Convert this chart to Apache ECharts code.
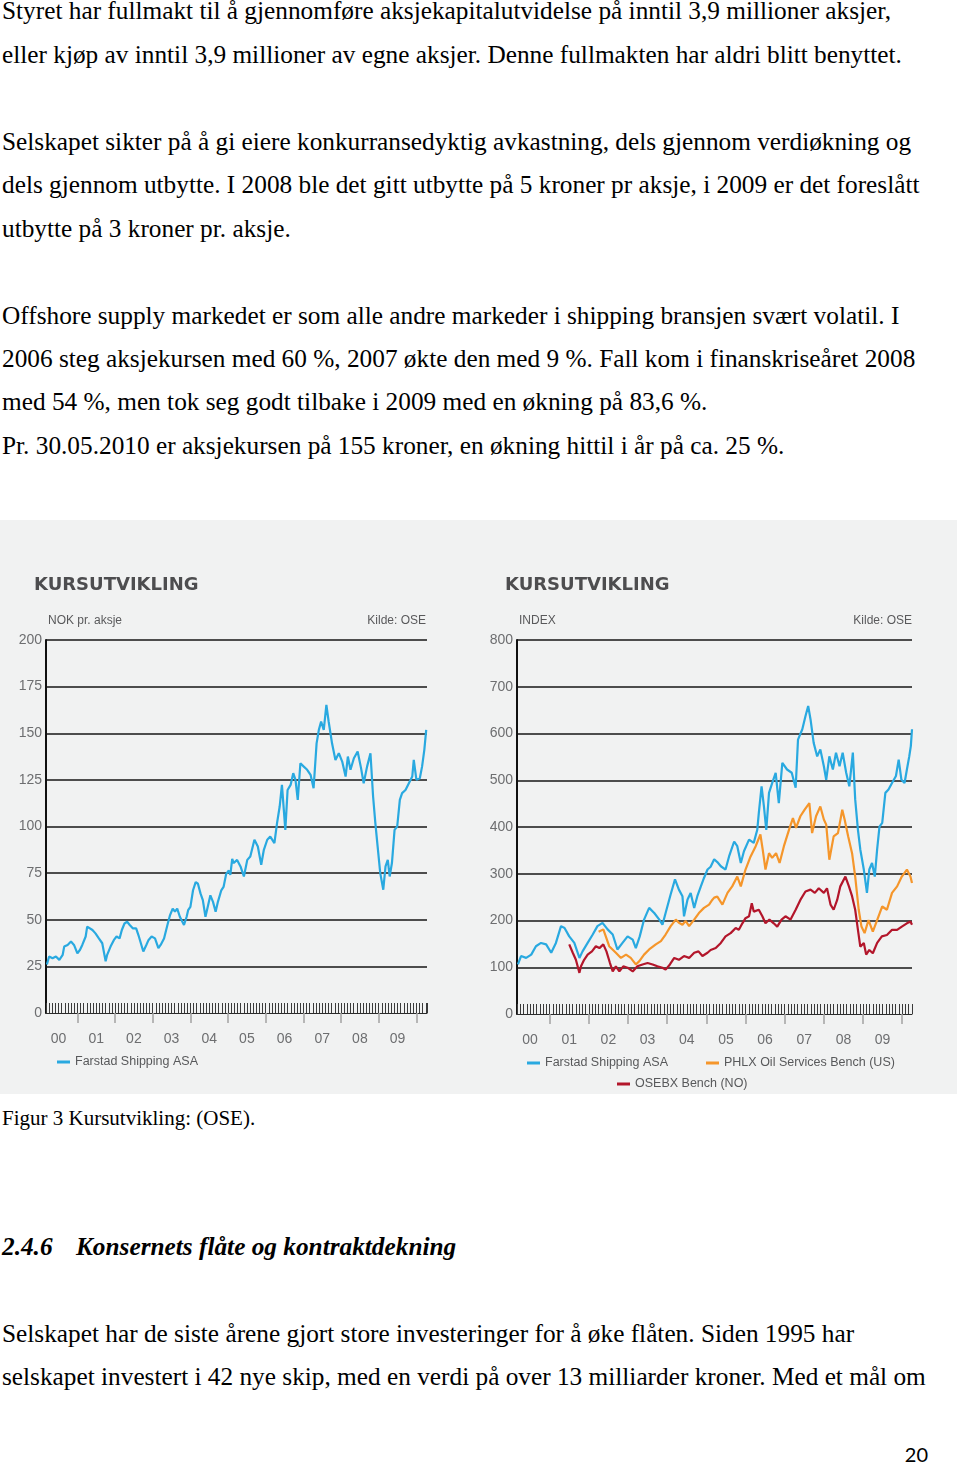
<!DOCTYPE html>
<html><head><meta charset="utf-8">
<script src="https://cdn.jsdelivr.net/npm/echarts@6/dist/echarts.min.js"></script>
<style>
html,body{margin:0;padding:0;background:#fff;}
#page{position:relative;width:960px;height:1466px;overflow:hidden;background:#fff;}
.t{position:absolute;left:2px;white-space:nowrap;font-family:"Liberation Serif","Times New Roman",serif;font-size:25.3px;line-height:25.3px;color:#000;}
.cap{font-size:21px;line-height:21px;}
.h{font-weight:bold;font-style:italic;}
.pg{position:absolute;right:32px;top:1444px;font-family:Lato,"Liberation Sans",sans-serif;font-size:20px;line-height:20px;color:#000;}
#chart{position:absolute;left:0;top:520px;width:957px;height:574px;}
</style></head>
<body><div id="page">
<div class="t" style="top:-1.7px">Styret har fullmakt til å gjennomføre aksjekapitalutvidelse på inntil 3,9 millioner aksjer,</div>
<div class="t" style="top:41.8px">eller kjøp av inntil 3,9 millioner av egne aksjer. Denne fullmakten har aldri blitt benyttet.</div>
<div class="t" style="top:128.7px">Selskapet sikter på å gi eiere konkurransedyktig avkastning, dels gjennom verdiøkning og</div>
<div class="t" style="top:172.1px">dels gjennom utbytte. I 2008 ble det gitt utbytte på 5 kroner pr aksje, i 2009 er det foreslått</div>
<div class="t" style="top:215.6px">utbytte på 3 kroner pr. aksje.</div>
<div class="t" style="top:302.5px">Offshore supply markedet er som alle andre markeder i shipping bransjen svært volatil. I</div>
<div class="t" style="top:345.9px">2006 steg aksjekursen med 60 %, 2007 økte den med 9 %. Fall kom i finanskriseåret 2008</div>
<div class="t" style="top:389.4px">med 54 %, men tok seg godt tilbake i 2009 med en økning på 83,6 %.</div>
<div class="t" style="top:432.8px">Pr. 30.05.2010 er aksjekursen på 155 kroner, en økning hittil i år på ca. 25 %.</div>
<div id="chart"></div>
<div class="t cap" style="top:1108.4px">Figur 3 Kursutvikling: (OSE).</div>
<div class="t h" style="top:1233.8px"><span style="display:inline-block;width:74px">2.4.6</span>Konsernets flåte og kontraktdekning</div>
<div class="t" style="top:1320.8px">Selskapet har de siste årene gjort store investeringer for å øke flåten. Siden 1995 har</div>
<div class="t" style="top:1364.3px">selskapet investert i 42 nye skip, med en verdi på over 13 milliarder kroner. Med et mål om</div>
<div class="pg">20</div>
</div>
<script>
// ---- data (decimal year, value) ----
const yearLabels = ['00','01','02','03','04','05','06','07','08','09'];
const yearStarts = [2001,2002,2003,2004,2005,2006,2007,2008,2009,2010];
const nokTicks = [0,25,50,75,100,125,150,175,200];
const indexTicks = [0,100,200,300,400,500,600,700,800];

const farstadNok = [[2000.19,26],[2000.25,30.3],[2000.34,29.4],[2000.43,30.3],[2000.52,28.5],[2000.61,31.2],[2000.65,35.6],[2000.74,36.5],[2000.83,38.3],[2000.87,39.2],[2000.91,36.5],[2001.00,32],[2001.07,33.9],[2001.13,36.5],[2001.22,41],[2001.26,46.3],[2001.31,47.2],[2001.40,44.5],[2001.48,42.7],[2001.57,40],[2001.66,37.4],[2001.75,27.7],[2001.79,31.2],[2001.88,35.6],[2001.97,39.2],[2002.04,41],[2002.12,40],[2002.18,44.5],[2002.25,48],[2002.32,48.9],[2002.39,47.2],[2002.47,45.4],[2002.56,45.4],[2002.62,41.8],[2002.67,42.7],[2002.75,33],[2002.83,36.5],[2002.89,39.2],[2002.97,41],[2003.06,40],[2003.15,34.8],[2003.21,36.5],[2003.30,40],[2003.39,47.2],[2003.46,52.5],[2003.53,56],[2003.59,54.3],[2003.65,56],[2003.72,51.6],[2003.83,47.2],[2003.90,51.6],[2003.94,55.1],[2004.00,56.9],[2004.07,65.8],[2004.14,70.2],[2004.20,69.3],[2004.27,64],[2004.33,60.5],[2004.40,51.6],[2004.47,57.8],[2004.53,63.1],[2004.60,59.6],[2004.67,54.3],[2004.73,59.6],[2004.82,65.8],[2004.88,67.6],[2004.95,74.6],[2005.02,76.4],[2005.06,74.1],[2005.11,82.6],[2005.15,80.4],[2005.24,82.1],[2005.33,78.6],[2005.42,73.2],[2005.51,82.1],[2005.59,83.9],[2005.70,92.9],[2005.79,89.3],[2005.88,79.5],[2005.95,87.5],[2006.04,92.9],[2006.12,94.6],[2006.23,91.1],[2006.30,101.8],[2006.37,110.7],[2006.43,122.3],[2006.48,108.9],[2006.52,98.2],[2006.58,119.6],[2006.66,122.3],[2006.73,128.6],[2006.79,125],[2006.85,114.3],[2006.92,133.9],[2007.01,132.1],[2007.10,130.4],[2007.19,127.7],[2007.27,120.5],[2007.35,144.6],[2007.41,151.8],[2007.47,156.3],[2007.54,151.8],[2007.61,165.2],[2007.67,156.3],[2007.76,144.6],[2007.85,135.7],[2007.94,139.3],[2008.03,134.8],[2008.12,126.8],[2008.18,137.5],[2008.25,130.4],[2008.34,136.6],[2008.44,140.2],[2008.53,131.3],[2008.60,123.2],[2008.69,132.1],[2008.78,139.3],[2008.85,116.1],[2008.91,101.8],[2008.97,89.3],[2009.04,75],[2009.12,66.1],[2009.18,78.6],[2009.24,82.1],[2009.29,73.2],[2009.35,80.4],[2009.42,98.2],[2009.49,100],[2009.56,114.3],[2009.62,117.9],[2009.71,119.6],[2009.80,123.2],[2009.89,126.8],[2009.93,135.7],[2010.00,125],[2010.09,125.9],[2010.15,132.1],[2010.21,141.1],[2010.26,151.8]];

const farstadIndex = [[2000.19,106],[2000.27,124],[2000.40,120],[2000.53,127],[2000.65,145],[2000.78,152],[2000.91,149],[2001.04,131],[2001.16,152],[2001.29,188],[2001.38,184],[2001.50,166],[2001.63,152],[2001.76,120],[2001.84,134],[2001.97,152],[2002.10,170],[2002.22,188],[2002.35,195],[2002.48,181],[2002.61,170],[2002.73,138],[2002.86,152],[2002.99,166],[2003.12,159],[2003.20,141],[2003.30,166],[2003.41,202],[2003.54,227],[2003.67,216],[2003.80,202],[2003.88,191],[2003.96,216],[2004.09,256],[2004.20,288],[2004.30,266],[2004.39,252],[2004.43,209],[2004.52,245],[2004.60,259],[2004.69,227],[2004.77,252],[2004.86,273],[2004.94,291],[2005.03,309],[2005.11,315],[2005.20,331],[2005.28,325],[2005.37,316],[2005.49,309],[2005.58,337],[2005.71,369],[2005.79,359],[2005.88,323],[2005.96,348],[2006.09,373],[2006.21,366],[2006.30,394],[2006.34,430],[2006.41,487],[2006.47,444],[2006.53,394],[2006.60,473],[2006.68,494],[2006.77,516],[2006.85,451],[2006.94,537],[2007.06,523],[2007.18,516],[2007.28,484],[2007.34,587],[2007.45,609],[2007.53,637],[2007.60,659],[2007.66,630],[2007.74,580],[2007.83,551],[2007.91,566],[2008.00,530],[2008.06,501],[2008.14,551],[2008.23,523],[2008.31,559],[2008.40,530],[2008.48,559],[2008.57,516],[2008.65,487],[2008.74,559],[2008.80,459],[2008.87,394],[2008.93,352],[2009.02,309],[2009.10,259],[2009.16,309],[2009.23,323],[2009.30,294],[2009.36,352],[2009.42,401],[2009.49,409],[2009.57,473],[2009.65,480],[2009.74,494],[2009.84,509],[2009.91,544],[2009.98,501],[2010.06,494],[2010.12,523],[2010.18,551],[2010.22,573],[2010.25,609]];

const phlxIndex = [[2002.25,176],[2002.37,181],[2002.52,145],[2002.69,131],[2002.82,120],[2002.95,127],[2003.07,120],[2003.20,106],[2003.29,113],[2003.41,127],[2003.54,138],[2003.71,149],[2003.84,156],[2003.96,170],[2004.09,188],[2004.22,202],[2004.30,195],[2004.39,191],[2004.47,199],[2004.56,188],[2004.69,202],[2004.81,216],[2004.94,227],[2005.07,234],[2005.15,244],[2005.20,249],[2005.28,251],[2005.41,234],[2005.54,259],[2005.66,273],[2005.79,294],[2005.88,273],[2006.00,309],[2006.13,337],[2006.26,359],[2006.38,384],[2006.44,351],[2006.51,309],[2006.60,344],[2006.68,334],[2006.78,344],[2006.87,323],[2006.98,359],[2007.11,394],[2007.21,419],[2007.29,398],[2007.40,423],[2007.51,437],[2007.63,451],[2007.70,387],[2007.80,423],[2007.91,444],[2008.00,416],[2008.06,405],[2008.14,330],[2008.25,380],[2008.36,387],[2008.47,437],[2008.53,416],[2008.62,380],[2008.72,344],[2008.80,294],[2008.89,223],[2008.96,187],[2009.04,173],[2009.14,201],[2009.25,176],[2009.36,201],[2009.49,230],[2009.61,223],[2009.74,259],[2009.87,273],[2009.99,294],[2010.12,309],[2010.21,294],[2010.25,280]];

const osebxIndex = [[2001.50,149],[2001.59,131],[2001.67,116],[2001.76,88],[2001.80,102],[2001.88,116],[2001.97,127],[2002.08,134],[2002.18,145],[2002.27,141],[2002.37,149],[2002.45,134],[2002.54,109],[2002.61,91],[2002.69,102],[2002.78,91],[2002.88,102],[2002.99,99],[2003.12,91],[2003.24,102],[2003.37,106],[2003.50,109],[2003.63,106],[2003.75,102],[2003.88,99],[2003.96,95],[2004.07,106],[2004.18,120],[2004.30,116],[2004.43,124],[2004.56,120],[2004.69,131],[2004.80,134],[2004.90,124],[2005.03,131],[2005.11,137],[2005.24,141],[2005.37,152],[2005.49,166],[2005.62,173],[2005.75,184],[2005.83,180],[2005.92,194],[2006.00,205],[2006.09,209],[2006.16,237],[2006.21,219],[2006.34,223],[2006.43,209],[2006.51,194],[2006.61,202],[2006.72,194],[2006.81,187],[2006.92,202],[2007.02,209],[2007.15,202],[2007.28,223],[2007.40,244],[2007.53,262],[2007.66,266],[2007.77,259],[2007.87,269],[2008.00,259],[2008.08,269],[2008.17,234],[2008.25,223],[2008.34,244],[2008.42,273],[2008.55,294],[2008.64,273],[2008.72,252],[2008.80,223],[2008.87,180],[2008.93,144],[2009.02,152],[2009.08,127],[2009.16,137],[2009.25,130],[2009.36,152],[2009.48,166],[2009.61,169],[2009.74,180],[2009.87,180],[2009.99,187],[2010.12,194],[2010.21,198],[2010.25,191]];

// ---- chart ----
const BLUE = '#29a9e0', ORANGE = '#f5962b', RED = '#b3162b';
const xMin = 2000 + 2/12;
const labelFont = 'Liberation Sans';

function mainX(grid, max) {
  return {
    gridIndex: grid, type: 'value', min: xMin, max: max, position: 'bottom',
    axisLine: {show: true, onZero: false, lineStyle: {color: '#2b2b2b', width: 1}},
    axisTick: {show: true, customValues: yearStarts, length: 10, inside: false,
               lineStyle: {color: '#a3a3a3', width: 1.5}},
    axisLabel: {show: true, customValues: yearLabels.map((_, i) => 2000.5 + i),
                formatter: v => yearLabels[Math.round(v - 2000.5)],
                margin: 19, color: '#6d6e70', fontSize: 14, fontFamily: labelFont},
    splitLine: {show: false}
  };
}
function bandX(grid, max) {
  return {
    gridIndex: grid, type: 'value', min: xMin, max: max, interval: 1/12, position: 'bottom',
    axisLine: {show: false, onZero: false},
    axisTick: {show: true, inside: true, length: 10, lineStyle: {color: '#3a3a3a', width: 1}},
    axisLabel: {show: false}, splitLine: {show: false}
  };
}
function yAx(grid, ticks) {
  return {
    gridIndex: grid, type: 'value', min: ticks[0], max: ticks[ticks.length - 1],
    interval: ticks[1] - ticks[0],
    axisLine: {show: true, lineStyle: {color: '#111', width: 2}},
    axisTick: {show: false},
    axisLabel: {margin: 4, color: '#6d6e70', fontSize: 14, fontFamily: labelFont},
    splitLine: {show: true, lineStyle: {color: ticks.map((t, i) => i === 0 ? 'rgba(0,0,0,0)' : '#161616'), width: 1.5}}
  };
}
const legendBase = {
  orient: 'horizontal', padding: 0, itemWidth: 13, itemHeight: 3, icon: 'rect',
  selectedMode: false,
  textStyle: {fontFamily: labelFont, fontSize: 12.5, color: '#58595b', lineHeight: 14}
};
const titleStyle = {fontFamily: 'DejaVu Sans', fontWeight: 'bold', fontSize: 18, color: '#4d4d4f', lineHeight: 18};
const smallFont = '12px "Liberation Sans"';

const chart = echarts.init(document.getElementById('chart'), null, {renderer: 'canvas'});
chart.setOption({
  animation: false,
  backgroundColor: '#f1f2f2',
  title: [
    {text: 'KURSUTVIKLING', left: 34, top: 56, padding: 0, textStyle: titleStyle},
    {text: 'KURSUTVIKLING', left: 505, top: 56, padding: 0, textStyle: titleStyle}
  ],
  graphic: [
    {type: 'text', x: 48, y: 101, style: {text: 'NOK pr. aksje', fill: '#59595b', font: smallFont, verticalAlign: 'middle'}},
    {type: 'text', x: 426, y: 101, style: {text: 'Kilde: OSE', fill: '#59595b', font: smallFont, align: 'right', verticalAlign: 'middle'}},
    {type: 'text', x: 519, y: 101, style: {text: 'INDEX', fill: '#59595b', font: smallFont, verticalAlign: 'middle'}},
    {type: 'text', x: 912, y: 101, style: {text: 'Kilde: OSE', fill: '#59595b', font: smallFont, align: 'right', verticalAlign: 'middle'}}
  ],
  legend: [
    Object.assign({}, legendBase, {data: ['Farstad Shipping ASA'], left: 57, top: 535}),
    Object.assign({}, legendBase, {data: ['Farstad Shipping ASA'], left: 527, top: 536}),
    Object.assign({}, legendBase, {data: ['PHLX Oil Services Bench (US)'], left: 706, top: 536}),
    Object.assign({}, legendBase, {data: ['OSEBX Bench (NO)'], left: 617, top: 557})
  ],
  grid: [
    {left: 46, top: 120, width: 381, height: 373, containLabel: false},
    {left: 517, top: 120, width: 395, height: 374, containLabel: false}
  ],
  xAxis: [mainX(0, 2010.281), bandX(0, 2010.281), mainX(1, 2010.25), bandX(1, 2010.25)],
  yAxis: [yAx(0, nokTicks), yAx(1, indexTicks)],
  series: [
    {name: 'Farstad Shipping ASA', type: 'line', xAxisIndex: 0, yAxisIndex: 0, data: farstadNok,
     showSymbol: false, lineStyle: {color: BLUE, width: 2.2}, itemStyle: {color: BLUE}},
    {name: 'Farstad Shipping ASA', type: 'line', xAxisIndex: 2, yAxisIndex: 1, data: farstadIndex,
     showSymbol: false, lineStyle: {color: BLUE, width: 2.2}, itemStyle: {color: BLUE}},
    {name: 'PHLX Oil Services Bench (US)', type: 'line', xAxisIndex: 2, yAxisIndex: 1, data: phlxIndex,
     showSymbol: false, lineStyle: {color: ORANGE, width: 2.2}, itemStyle: {color: ORANGE}},
    {name: 'OSEBX Bench (NO)', type: 'line', xAxisIndex: 2, yAxisIndex: 1, data: osebxIndex,
     showSymbol: false, lineStyle: {color: RED, width: 2.2}, itemStyle: {color: RED}}
  ]
});
</script>
</body></html>
